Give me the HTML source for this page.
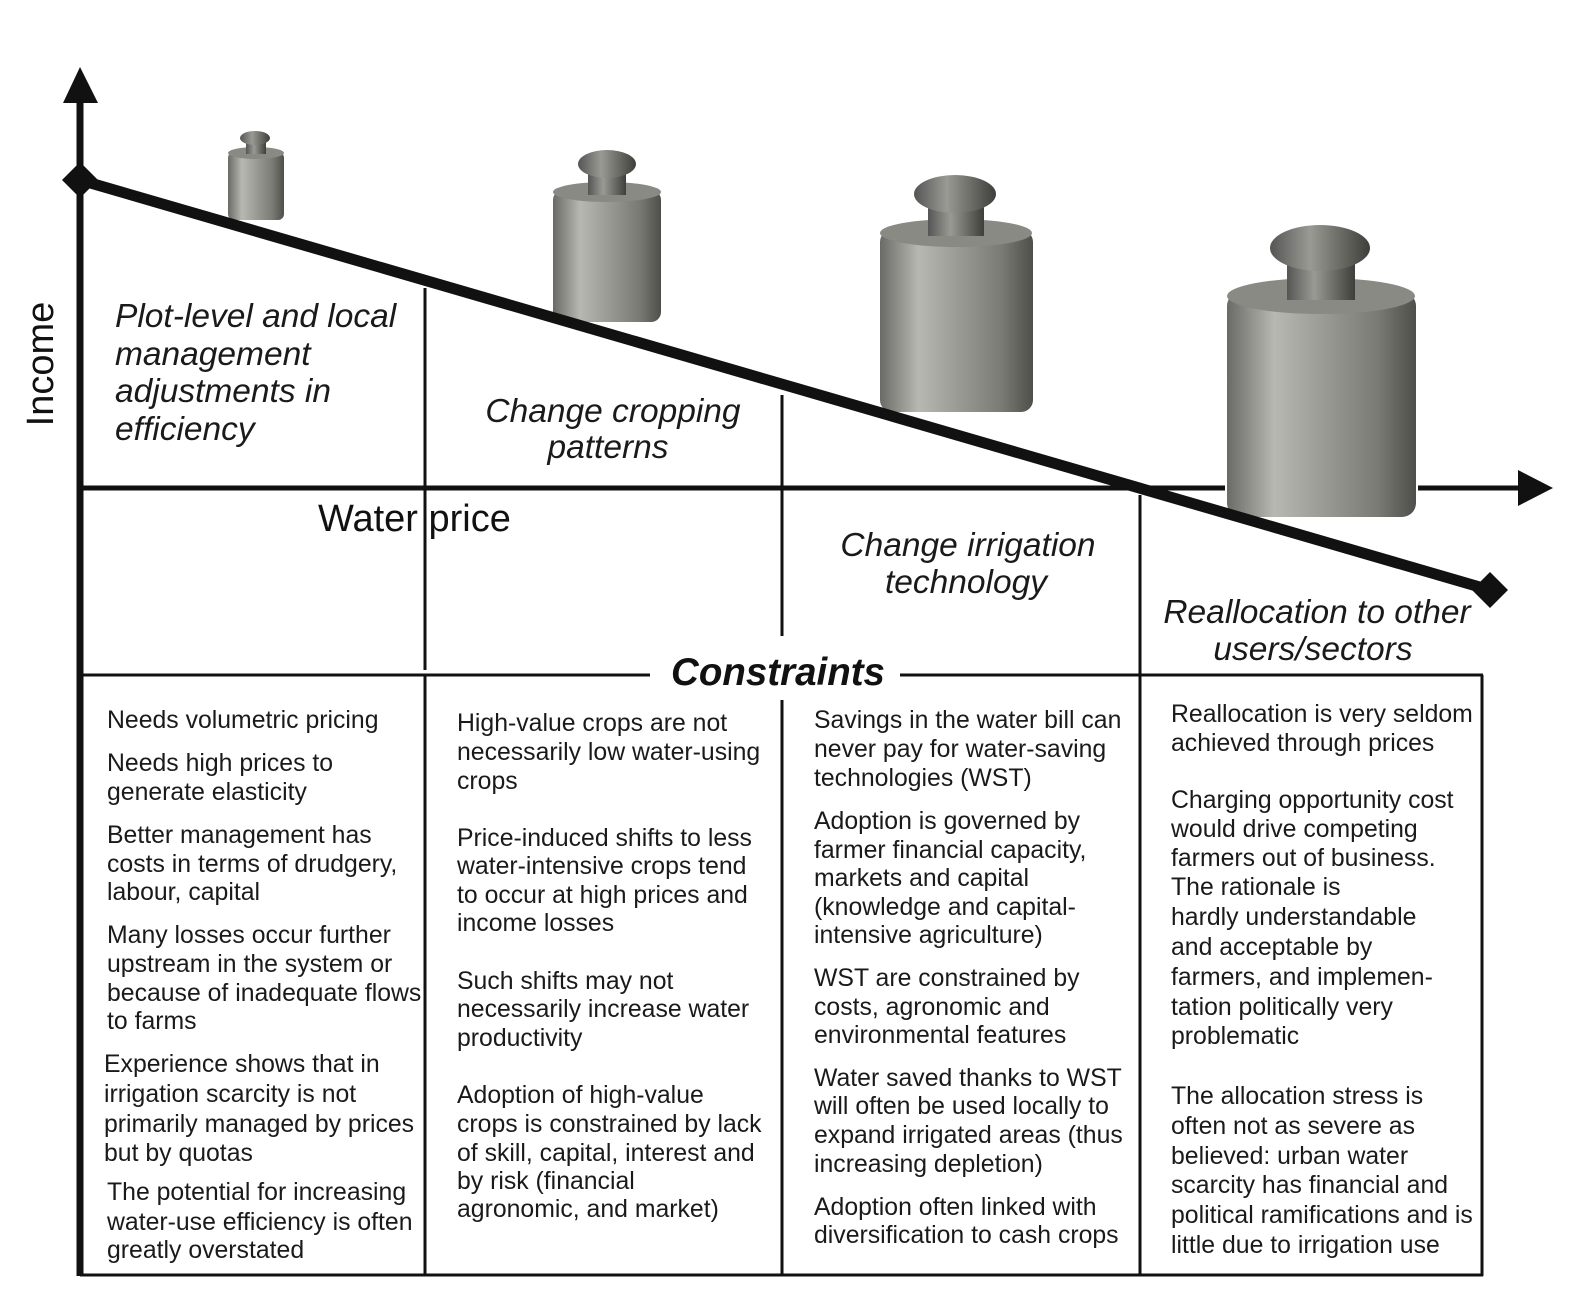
<!DOCTYPE html>
<html><head><meta charset="utf-8"><style>
html,body{margin:0;padding:0;background:#fff;}
svg{display:block;}
.t{font-family:"Liberation Sans",Arial,sans-serif;font-size:24.8px;fill:#1a1a1a;}
.h{font-family:"Liberation Sans",Arial,sans-serif;font-size:33.5px;font-style:italic;fill:#1a1a1a;}
</style></head><body>
<svg width="1578" height="1308" viewBox="0 0 1578 1308" xmlns="http://www.w3.org/2000/svg">
<defs>
<linearGradient id="g" x1="0" x2="1" y1="0" y2="0">
<stop offset="0" stop-color="#6a6a66"/><stop offset="0.25" stop-color="#b8b8b2"/><stop offset="0.5" stop-color="#9c9c96"/><stop offset="0.8" stop-color="#7a7a74"/><stop offset="1" stop-color="#4e4e4a"/>
</linearGradient>
<linearGradient id="k" x1="0" x2="1" y1="0" y2="0">
<stop offset="0" stop-color="#555"/><stop offset="0.4" stop-color="#9a9a94"/><stop offset="1" stop-color="#3e3e3a"/>
</linearGradient>
</defs>

<g>
<rect x="228" y="152" width="56" height="68" rx="6" fill="url(#g)"/>
<ellipse cx="256" cy="153" rx="28" ry="6" fill="#8a8a84"/>
<rect x="246" y="138" width="20" height="16" fill="url(#k)"/>
<ellipse cx="255" cy="138" rx="15" ry="7" fill="url(#k)"/>

<rect x="553" y="190" width="108" height="132" rx="10" fill="url(#g)"/>
<ellipse cx="607" cy="192" rx="54" ry="10" fill="#8a8a84"/>
<rect x="588" y="165" width="38" height="30" fill="url(#k)"/>
<ellipse cx="607" cy="164" rx="29" ry="14" fill="url(#k)"/>

<rect x="880" y="230" width="153" height="182" rx="12" fill="url(#g)"/>
<ellipse cx="956" cy="233" rx="76" ry="14" fill="#8a8a84"/>
<rect x="928" y="196" width="56" height="40" fill="url(#k)"/>
<ellipse cx="955" cy="194" rx="41" ry="19" fill="url(#k)"/>

<rect x="1227" y="292" width="189" height="225" rx="14" fill="url(#g)"/>
<ellipse cx="1321" cy="296" rx="94" ry="18" fill="#8a8a84"/>
<rect x="1287" y="250" width="68" height="50" fill="url(#k)"/>
<ellipse cx="1320" cy="248" rx="50" ry="23" fill="url(#k)"/>
</g>

<line x1="80" y1="100" x2="80" y2="1276" stroke="#111" stroke-width="7"/>
<polygon points="63,103 98,103 80,67" fill="#111"/>
<line x1="80" y1="488" x2="1225" y2="488" stroke="#111" stroke-width="5"/>
<line x1="1418" y1="488" x2="1522" y2="488" stroke="#111" stroke-width="5"/>
<polygon points="1518,470 1518,506 1553,488" fill="#111"/>

<line x1="80" y1="180" x2="1490" y2="590" stroke="#111" stroke-width="11"/>
<polygon points="80,162 98,180 80,198 62,180" fill="#111"/>
<polygon points="1490,572 1508,590 1490,608 1472,590" fill="#111"/>

<line x1="425" y1="288" x2="425" y2="670" stroke="#111" stroke-width="3"/>
<line x1="782" y1="395" x2="782" y2="636" stroke="#111" stroke-width="3"/>
<line x1="1140" y1="495" x2="1140" y2="676" stroke="#111" stroke-width="3"/>

<line x1="80" y1="675" x2="650" y2="675" stroke="#111" stroke-width="3"/>
<line x1="900" y1="675" x2="1483" y2="675" stroke="#111" stroke-width="3"/>
<line x1="1482" y1="675" x2="1482" y2="1276" stroke="#111" stroke-width="3"/>
<line x1="80" y1="1275" x2="1483" y2="1275" stroke="#111" stroke-width="3"/>
<line x1="425" y1="675" x2="425" y2="1275" stroke="#111" stroke-width="3"/>
<line x1="782" y1="700" x2="782" y2="1275" stroke="#111" stroke-width="3"/>
<line x1="1140" y1="675" x2="1140" y2="1275" stroke="#111" stroke-width="3"/>

<text x="53" y="364" transform="rotate(-90 53 364)" text-anchor="middle" font-family="Liberation Sans, sans-serif" font-size="38" fill="#111">Income</text>
<text x="318" y="531" font-family="Liberation Sans, sans-serif" font-size="38" fill="#111">Water price</text>
<text x="778" y="685" text-anchor="middle" font-family="Liberation Sans, sans-serif" font-size="38.5" font-weight="bold" font-style="italic" fill="#111">Constraints</text>

<text class="h" x="115" y="327">Plot-level and local</text>
<text class="h" x="115" y="365">management</text>
<text class="h" x="115" y="402">adjustments in</text>
<text class="h" x="115" y="440">efficiency</text>
<text class="h" x="613" y="422" text-anchor="middle">Change cropping</text>
<text class="h" x="608" y="458" text-anchor="middle">patterns</text>
<text class="h" x="968" y="556" text-anchor="middle">Change irrigation</text>
<text class="h" x="966" y="593" text-anchor="middle">technology</text>
<text class="h" x="1317" y="623" text-anchor="middle">Reallocation to other</text>
<text class="h" x="1313" y="660" text-anchor="middle">users/sectors</text>

<g class="t">
<text x="107" y="728">Needs volumetric pricing</text>
<text x="107" y="771">Needs high prices to</text>
<text x="107" y="800">generate elasticity</text>
<text x="107" y="843">Better management has</text>
<text x="107" y="872">costs in terms of drudgery,</text>
<text x="107" y="900">labour, capital</text>
<text x="107" y="943">Many losses occur further</text>
<text x="107" y="972">upstream in the system or</text>
<text x="107" y="1001">because of inadequate flows</text>
<text x="107" y="1029">to farms</text>
<text x="104" y="1072">Experience shows that in</text>
<text x="104" y="1102">irrigation scarcity is not</text>
<text x="104" y="1132">primarily managed by prices</text>
<text x="104" y="1161">but by quotas</text>
<text x="107" y="1200">The potential for increasing</text>
<text x="107" y="1230">water-use efficiency is often</text>
<text x="107" y="1258">greatly overstated</text>

<text x="457" y="731">High-value crops are not</text>
<text x="457" y="760">necessarily low water-using</text>
<text x="457" y="789">crops</text>
<text x="457" y="846">Price-induced shifts to less</text>
<text x="457" y="874">water-intensive crops tend</text>
<text x="457" y="903">to occur at high prices and</text>
<text x="457" y="931">income losses</text>
<text x="457" y="989">Such shifts may not</text>
<text x="457" y="1017">necessarily increase water</text>
<text x="457" y="1046">productivity</text>
<text x="457" y="1103">Adoption of high-value</text>
<text x="457" y="1132">crops is constrained by lack</text>
<text x="457" y="1161">of skill, capital, interest and</text>
<text x="457" y="1189">by risk (financial</text>
<text x="457" y="1217">agronomic, and market)</text>

<text x="814" y="728">Savings in the water bill can</text>
<text x="814" y="757">never pay for water-saving</text>
<text x="814" y="786">technologies (WST)</text>
<text x="814" y="829">Adoption is governed by</text>
<text x="814" y="858">farmer financial capacity,</text>
<text x="814" y="886">markets and capital</text>
<text x="814" y="915">(knowledge and capital-</text>
<text x="814" y="943">intensive agriculture)</text>
<text x="814" y="986">WST are constrained by</text>
<text x="814" y="1015">costs, agronomic and</text>
<text x="814" y="1043">environmental features</text>
<text x="814" y="1086">Water saved thanks to WST</text>
<text x="814" y="1114">will often be used locally to</text>
<text x="814" y="1143">expand irrigated areas (thus</text>
<text x="814" y="1172">increasing depletion)</text>
<text x="814" y="1215">Adoption often linked with</text>
<text x="814" y="1243">diversification to cash crops</text>

<text x="1171" y="722">Reallocation is very seldom</text>
<text x="1171" y="751">achieved through prices</text>
<text x="1171" y="808">Charging opportunity cost</text>
<text x="1171" y="837">would drive competing</text>
<text x="1171" y="866">farmers out of business.</text>
<text x="1171" y="895">The rationale is</text>
<text x="1171" y="925">hardly understandable</text>
<text x="1171" y="955">and acceptable by</text>
<text x="1171" y="985">farmers, and implemen-</text>
<text x="1171" y="1015">tation politically very</text>
<text x="1171" y="1044">problematic</text>
<text x="1171" y="1104">The allocation stress is</text>
<text x="1171" y="1134">often not as severe as</text>
<text x="1171" y="1164">believed: urban water</text>
<text x="1171" y="1193">scarcity has financial and</text>
<text x="1171" y="1223">political ramifications and is</text>
<text x="1171" y="1253">little due to irrigation use</text>
</g>
</svg>
</body></html>
